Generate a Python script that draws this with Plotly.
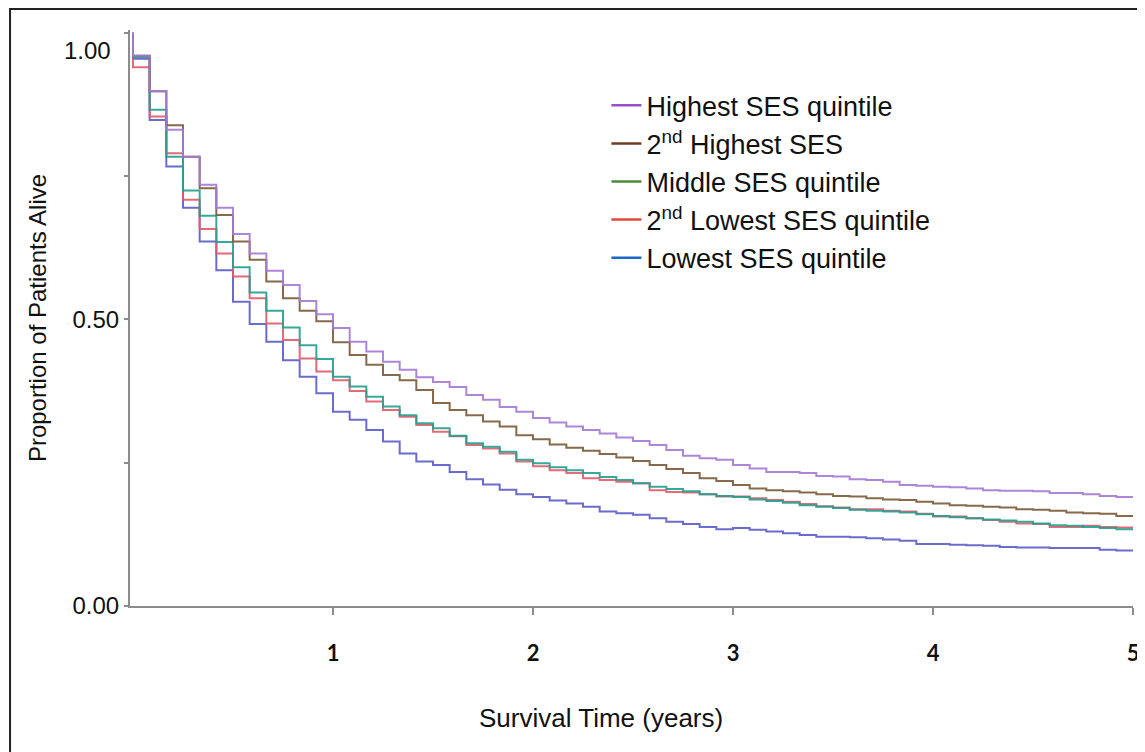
import plotly.graph_objects as go

# Kaplan-Meier survival estimates, one value per monthly interval (month 0..59)
months = list(range(60))

highest_ses = [0.960, 0.898, 0.831, 0.784, 0.735, 0.695, 0.649, 0.615, 0.585, 0.560, 0.532, 0.509,
               0.485, 0.461, 0.444, 0.426, 0.412, 0.399, 0.391, 0.382, 0.368, 0.360, 0.347, 0.339,
               0.328, 0.320, 0.313, 0.307, 0.301, 0.294, 0.288, 0.281, 0.272, 0.262, 0.258, 0.255,
               0.246, 0.240, 0.234, 0.234, 0.232, 0.227, 0.226, 0.221, 0.220, 0.217, 0.211, 0.210,
               0.208, 0.207, 0.205, 0.202, 0.201, 0.201, 0.200, 0.197, 0.197, 0.195, 0.192, 0.190]
second_highest_ses = [0.960, 0.898, 0.839, 0.784, 0.729, 0.682, 0.636, 0.604, 0.566, 0.537, 0.515, 0.497,
                      0.460, 0.438, 0.421, 0.403, 0.394, 0.377, 0.354, 0.342, 0.333, 0.322, 0.313, 0.298,
                      0.291, 0.282, 0.276, 0.271, 0.265, 0.259, 0.253, 0.246, 0.239, 0.232, 0.223, 0.218,
                      0.211, 0.205, 0.202, 0.200, 0.198, 0.195, 0.192, 0.191, 0.188, 0.186, 0.185, 0.182,
                      0.179, 0.176, 0.175, 0.173, 0.172, 0.169, 0.168, 0.166, 0.163, 0.162, 0.161, 0.157]
middle_ses = [0.958, 0.866, 0.784, 0.725, 0.681, 0.635, 0.591, 0.547, 0.515, 0.486, 0.455, 0.431,
              0.400, 0.383, 0.365, 0.348, 0.333, 0.319, 0.310, 0.297, 0.284, 0.278, 0.269, 0.255,
              0.249, 0.242, 0.237, 0.232, 0.225, 0.220, 0.214, 0.208, 0.204, 0.200, 0.195, 0.192,
              0.190, 0.186, 0.183, 0.180, 0.176, 0.173, 0.171, 0.168, 0.166, 0.165, 0.163, 0.160,
              0.157, 0.155, 0.153, 0.151, 0.149, 0.147, 0.144, 0.141, 0.140, 0.138, 0.136, 0.134]
second_lowest_ses = [0.940, 0.854, 0.790, 0.709, 0.658, 0.615, 0.575, 0.537, 0.493, 0.464, 0.432, 0.409,
                     0.394, 0.375, 0.357, 0.342, 0.330, 0.316, 0.304, 0.296, 0.281, 0.275, 0.266, 0.252,
                     0.244, 0.237, 0.232, 0.223, 0.220, 0.217, 0.214, 0.202, 0.199, 0.198, 0.195, 0.191,
                     0.191, 0.188, 0.185, 0.182, 0.178, 0.174, 0.172, 0.169, 0.169, 0.166, 0.165, 0.161,
                     0.156, 0.156, 0.153, 0.150, 0.147, 0.144, 0.143, 0.138, 0.138, 0.140, 0.138, 0.137]
lowest_ses = [0.955, 0.848, 0.767, 0.695, 0.636, 0.586, 0.531, 0.492, 0.461, 0.429, 0.400, 0.371,
              0.339, 0.325, 0.307, 0.287, 0.266, 0.252, 0.246, 0.234, 0.221, 0.212, 0.203, 0.195,
              0.190, 0.184, 0.179, 0.173, 0.165, 0.162, 0.159, 0.153, 0.147, 0.143, 0.138, 0.134,
              0.136, 0.133, 0.130, 0.127, 0.124, 0.121, 0.121, 0.120, 0.118, 0.116, 0.114, 0.108,
              0.108, 0.107, 0.106, 0.105, 0.103, 0.102, 0.102, 0.101, 0.101, 0.101, 0.098, 0.097]

series_names = ["Highest SES quintile", "2<sup>nd</sup> Highest SES", "Middle SES quintile",
                "2<sup>nd</sup> Lowest SES quintile", "Lowest SES quintile"]
series_values = [highest_ses, second_highest_ses, middle_ses, second_lowest_ses, lowest_ses]
line_colors = ["#A57AD6", "#7A5A38", "#22A08E", "#E35A6A", "#5C5CC8"]
legend_colors = ["#9A4FC8", "#6E3B1E", "#4C8A3A", "#E04A3A", "#1A66CC"]

x_ticks = [1, 2, 3, 4, 5]
y_ticks = [0, 0.5]
y_ticktext = ["0.00", "0.50"]
y_minor_ticks = [0.25, 0.75, 1.0]

fig = go.Figure()

# draw lowest first so highest sits on top
for name, vals, col in reversed(list(zip(series_names, series_values, line_colors))):
    t = [0.0] + [m / 12 for m in months] + [5.0]
    s = [1.0] + vals + [vals[-1]]
    fig.add_trace(go.Scatter(x=t, y=s, mode="lines", line=dict(color=col, width=2, shape="hv"),
                             name=name, showlegend=False, opacity=0.9))

for name, col in zip(series_names, legend_colors):
    fig.add_trace(go.Scatter(x=[None], y=[None], mode="lines", line=dict(color=col, width=2.5),
                             name=name, showlegend=True))

# the page body adds an 8px offset, so the figure is 8px smaller than the window
fig.update_layout(
    width=1137, height=744,
    margin=dict(l=122, r=12, t=22, b=146),
    paper_bgcolor="white", plot_bgcolor="white",
    font=dict(family="Liberation Sans, Arial, sans-serif", color="#111"),
    legend=dict(x=0.475, y=0.911, xanchor="left", yanchor="top",
                font=dict(size=27, color="#111"), bgcolor="rgba(0,0,0,0)",
                tracegroupgap=0),
    xaxis=dict(range=[-0.015, 5.0], tickvals=x_ticks, ticktext=[str(v) for v in x_ticks],
               automargin=False,
               showgrid=False, zeroline=False, showline=True, linecolor="#8c8c8c", linewidth=2,
               ticks="outside", ticklen=7, tickwidth=2, tickcolor="#8c8c8c",
               ticklabelstandoff=20,
               tickfont=dict(family="Lato, sans-serif", size=22, color="#111", weight="bold")),
    yaxis=dict(range=[0, 1.005], tickvals=y_ticks, ticktext=y_ticktext,
               automargin=False,
               showgrid=False, zeroline=False, showline=True, linecolor="#8c8c8c", linewidth=2,
               ticks="outside", ticklen=4, tickwidth=2, tickcolor="#8c8c8c",
               minor=dict(tickvals=y_minor_ticks, ticks="outside", ticklen=4, tickwidth=2,
                          tickcolor="#8c8c8c", showgrid=False),
               tickfont=dict(size=24, color="#111"),
               title=dict(text="Proportion of Patients Alive", font=dict(size=24, color="#111"), standoff=19)),
)

# x-axis title (sits left of the plot centre in the original)
fig.add_annotation(x=0.4696, xref="paper", y=-0.1944, yref="paper", text="Survival Time (years)",
                   showarrow=False, xanchor="center", yanchor="middle",
                   font=dict(size=26, color="#111"))

# the "1.00" label sits slightly below the top tick in the original
fig.add_annotation(x=0, xref="paper", y=0.97, yref="y", text="1.00", showarrow=False,
                   xanchor="right", xshift=-17, font=dict(size=24, color="#111"))

# outer frame of the figure
fig.add_shape(type="rect", xref="paper", yref="paper", x0=-0.1196, x1=1.05, y0=-0.4, y1=1.0365,
              line=dict(color="#222", width=2), fillcolor="rgba(0,0,0,0)", layer="below")

fig.write_html("out.html")
